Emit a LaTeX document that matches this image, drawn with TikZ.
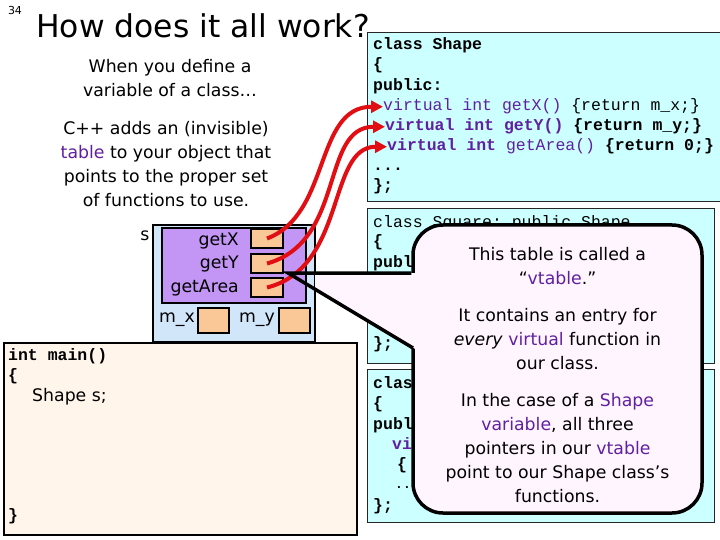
\documentclass[tikz,border=0pt]{standalone}
\usepackage{fontspec}
\setmainfont{DejaVu Sans}
\setmonofont{Liberation Mono}
\usetikzlibrary{positioning, arrows.meta}
\definecolor{celeste}{RGB}{204, 255, 255}
\definecolor{cielo}{RGB}{210, 230, 250}
\definecolor{lila}{RGB}{195, 150, 245}
\definecolor{melon}{RGB}{250, 200, 150}
\definecolor{crema}{RGB}{255, 245, 235}
\definecolor{rosado}{RGB}{255, 245, 255}
\definecolor{purpura}{RGB}{96, 32, 160}
\definecolor{rojo}{RGB}{225, 15, 20}
\tikzset{
    codebox/.style={draw=black!85, fill=celeste, line width=1.2pt, anchor=north west, inner sep=0pt},
    codeln/.style={anchor=base west, inner sep=0pt, font=\fontsize{16.5}{20}\selectfont\ttfamily\bfseries},
    txt/.style={align=center, inner sep=0pt, font=\fontsize{17.3}{24}\selectfont},
    objbox/.style={draw, line width=2pt, anchor=north west, inner sep=0pt},
    slot/.style={draw, fill=melon, line width=2pt, minimum width=32pt, minimum height=19pt, anchor=north west, inner sep=0pt},
    ptr/.style={rojo, line width=4pt, -{Triangle[length=12pt, width=12pt]}},
    bubble/.style={draw, fill=rosado, line width=3.5pt, rounded corners=30pt, inner sep=0pt},
}

\begin{document}
\begin{tikzpicture}[x=1pt, y=-1pt]
    \useasboundingbox (0,0) rectangle (720,540);
    \fill[white] (0,0) rectangle (720,540);

    % heading
    \node[font=\fontsize{11}{12}\selectfont] (num) at (15,10) {34};
    \node[inner sep=0pt, font=\fontsize{31.4}{36}\selectfont] (title) at (203,26) {How does it all work?};
    \node[txt] (intro) at (170,78.5) {When you define a\\variable of a class…};
    \node[txt] (expl) at (166,164) {C++ adds an (invisible)\\\textcolor{purpura}{table} to your object that\\points to the proper set\\of functions to use.};

    % class Shape
    \node[codebox, minimum width=360pt, minimum height=169pt] (cshape) at (367,32) {};
    \node[codeln] (sh1) at (373,50) {class Shape};
    \node[codeln] (sh2) at (373,70) {\{};
    \node[codeln] (sh3) at (373,91) {public:};
    \node[codeln, font=\fontsize{16.5}{20}\selectfont\ttfamily] (shx) at (383,111) {\textcolor{purpura}{virtual int getX()} \{return m\_x;\}};
    \node[codeln] (shy) at (385,131) {\textcolor{purpura}{virtual int getY()} \{return m\_y;\}};
    \node[codeln] (sha) at (387,151) {\textcolor{purpura}{virtual int \mdseries getArea()} \{return 0;\}};
    \node[codeln] (sh4) at (373,171) {...};
    \node[codeln] (sh5) at (373,191) {\};};

    % class Square
    \node[codebox, minimum width=347pt, minimum height=155pt] (csquare) at (367,208) {};
    \node[codeln, font=\fontsize{16.5}{20}\selectfont\ttfamily] (sq1) at (373,227) {class Square: public Shape};
    \node[codeln] (sq2) at (373,247) {\{};
    \node[codeln] (sq3) at (373,267) {publ};
    \node[codeln] (sq4) at (373,348) {\};};

    % third class
    \node[codebox, minimum width=347pt, minimum height=153pt] (cthird) at (367,369) {};
    \node[codeln] (tc1) at (373,388) {clas};
    \node[codeln] (tc2) at (373,408) {\{};
    \node[codeln] (tc3) at (373,429) {publ};
    \node[codeln, text=purpura] (tc4) at (392,449) {vi};
    \node[codeln] (tc5) at (397,469) {\{};
    \node[codeln, font=\fontsize{13}{14}\selectfont\ttfamily\bfseries] (tc6) at (395,488) {...};
    \node[codeln] (tc7) at (373,510) {\};};

    % main
    \node[objbox, line width=1.5pt, fill=crema, minimum width=353pt, minimum height=192pt] (mainbox) at (3,342) {};
    \node[codeln] (mn1) at (8,360) {int main()};
    \node[codeln] (mn2) at (8,380) {\{};
    \node[txt, anchor=base west] (mn3) at (32,401) {Shape s;};
    \node[codeln] (mn4) at (8,520) {\}};

    % object s
    \node[objbox, fill=cielo, minimum width=162pt, minimum height=117pt] (sobj) at (152,224) {};
    \node[txt] (slbl) at (145,236) {s};
    \node[objbox, fill=lila, minimum width=144pt, minimum height=75pt] (vtbl) at (161,227) {};
    \node[slot] (vx) at (250,228) {};
    \node[slot] (vy) at (250,253) {};
    \node[slot] (va) at (250,277) {};
    \node[txt, anchor=east] (lx) at (239,241) {getX};
    \node[txt, anchor=east] (ly) at (239,264) {getY};
    \node[txt, anchor=east] (la) at (239,288) {getArea};
    \node[slot, minimum width=31pt, minimum height=25pt] (mx) at (197,307) {};
    \node[slot, minimum width=31pt, minimum height=25pt] (my) at (278,307) {};
    \node[txt, anchor=east] (lmx) at (195,320) {m\_x};
    \node[txt, anchor=east] (lmy) at (275,320) {m\_y};

    % pointers into class Shape
    \draw[ptr] (vx.center) .. controls +(64,-24) and +(-69,0) .. (shx.west);
    \draw[ptr] (vy.center) .. controls +(79,-22) and +(-65,0) .. (shy.west);
    \draw[ptr] (va.center) .. controls +(80,-20) and +(-60,0) .. (sha.west);

    % callout
    \node[bubble, minimum width=289pt, minimum height=288pt] (vt) at (557.5,369) {};
    \node[txt] (vttext) at (557.5,375) {This table is called a\\“\textcolor{purpura}{vtable}.”\\[13pt]It contains an entry for\\\textit{every} \textcolor{purpura}{virtual} function in\\our class.\\[13pt]In the case of a \textcolor{purpura}{Shape}\\\textcolor{purpura}{variable}, all three\\pointers in our \textcolor{purpura}{vtable}\\point to our Shape class’s\\functions.};
    \coordinate (tip) at (288,273);
    \coordinate (wb) at (413,348);
    \fill[rosado] (315,273) -- (417,273) -- (417,350) -- (315,289.6) -- cycle;
    \draw[line width=3.5pt] (tip -| vt.west) -- (tip) -- (wb);
\end{tikzpicture}
\end{document}
